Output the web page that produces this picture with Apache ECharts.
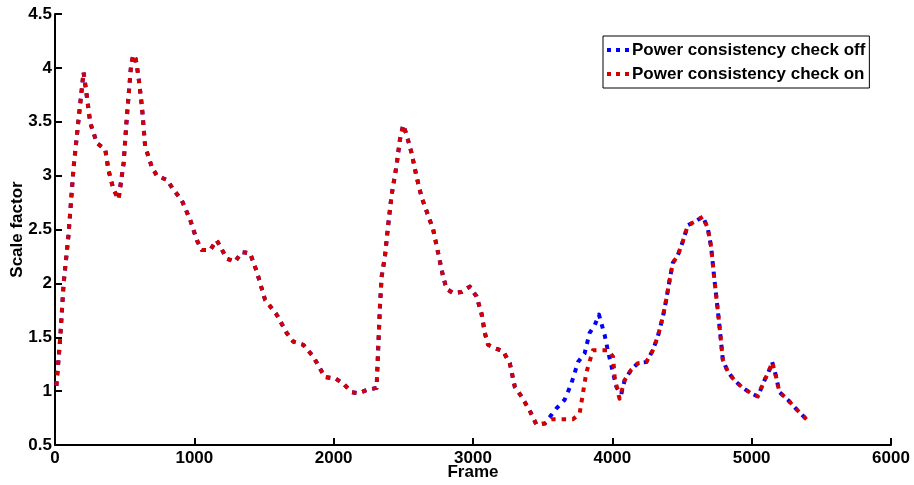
<!DOCTYPE html>
<html>
<head>
<meta charset="utf-8">
<script src="https://cdn.jsdelivr.net/npm/echarts@6/dist/echarts.min.js"></script>
<style>
  html, body { margin: 0; padding: 0; background: #ffffff; }
  #chart { width: 914px; height: 485px; }
</style>
</head>
<body>
<div id="chart"></div>
<script>
// Scale factor per frame, with and without the power consistency check.
const seriesNames = ['Power consistency check off', 'Power consistency check on'];

// Shared stretch before the two runs diverge (frame, scale factor)
const headFrames = [10, 38, 62, 97, 133, 169, 205, 224, 253, 301, 345, 361, 384, 420, 456, 492, 516, 547, 563, 580, 599, 624, 647, 695, 731, 803, 850, 910, 970, 1018, 1054, 1113, 1161, 1233, 1292, 1340, 1400, 1448, 1507, 1591, 1663, 1710, 1782, 1854, 1937, 2009, 2069, 2129, 2177, 2237, 2308, 2320, 2332, 2344, 2368, 2391, 2416, 2452, 2475, 2499, 2523, 2559, 2595, 2631, 2678, 2714, 2750, 2786, 2810, 2857, 2917, 2977, 3025, 3061, 3085, 3108, 3156, 3216, 3264, 3300, 3348, 3407, 3455, 3515];
const headValues = [1.05, 1.5, 2.0, 2.45, 3.07, 3.52, 3.96, 3.78, 3.49, 3.30, 3.26, 3.24, 3.05, 2.87, 2.78, 3.11, 3.55, 4.04, 4.12, 4.08, 3.92, 3.64, 3.27, 3.08, 3.00, 2.96, 2.87, 2.77, 2.59, 2.40, 2.31, 2.31, 2.40, 2.23, 2.20, 2.29, 2.28, 2.11, 1.85, 1.71, 1.54, 1.46, 1.43, 1.32, 1.13, 1.12, 1.07, 0.99, 0.98, 1.01, 1.03, 1.41, 1.78, 2.06, 2.25, 2.54, 2.82, 3.10, 3.33, 3.47, 3.38, 3.21, 2.99, 2.80, 2.63, 2.50, 2.28, 2.06, 1.95, 1.91, 1.92, 1.97, 1.88, 1.72, 1.54, 1.43, 1.40, 1.37, 1.26, 1.04, 0.95, 0.82, 0.69, 0.70];

// Diverging stretch, check off
const offFrames = [3599, 3658, 3706, 3754, 3801, 3837, 3873, 3904, 3945, 3969, 4005, 4029, 4064];
const offValues = [0.84, 0.92, 1.07, 1.27, 1.35, 1.54, 1.61, 1.71, 1.52, 1.37, 1.17, 1.04, 0.97];

// Diverging stretch, check on
const onFrames = [3563, 3646, 3718, 3765, 3789, 3813, 3861, 3886, 3969, 4005, 4017, 4041, 4052];
const onValues = [0.74, 0.74, 0.74, 0.79, 0.98, 1.17, 1.38, 1.38, 1.38, 1.32, 1.13, 0.98, 0.93];

// Shared stretch after the runs rejoin
const tailFrames = [4088, 4136, 4184, 4244, 4291, 4327, 4363, 4387, 4411, 4434, 4470, 4506, 4542, 4590, 4650, 4685, 4709, 4733, 4757, 4774, 4793, 4829, 4877, 4936, 4996, 5044, 5092, 5128, 5147, 5176, 5199, 5259, 5330, 5400];
const tailValues = [1.10, 1.20, 1.26, 1.27, 1.38, 1.51, 1.69, 1.85, 2.03, 2.19, 2.26, 2.39, 2.54, 2.57, 2.62, 2.51, 2.34, 2.03, 1.75, 1.54, 1.29, 1.18, 1.10, 1.03, 0.98, 0.95, 1.10, 1.20, 1.27, 1.13, 0.99, 0.92, 0.82, 0.73];

const xTicks = [0, 1000, 2000, 3000, 4000, 5000, 6000];
const yTicks = [0.5, 1, 1.5, 2, 2.5, 3, 3.5, 4, 4.5];

function pairs(frames, values) {
  return frames.map((f, i) => [f, values[i]]);
}
const offData = pairs(headFrames, headValues).concat(pairs(offFrames, offValues), pairs(tailFrames, tailValues));
const onData = pairs(headFrames, headValues).concat(pairs(onFrames, onValues), pairs(tailFrames, tailValues));

const FONT = '"Liberation Sans", Arial, Helvetica, sans-serif';
const dotIcon = 'path://M0,0h4v4h-4zM9,0h4v4h-4zM18,0h4v4h-4z';
const dash = [4.5, 6];

const chart = echarts.init(document.getElementById('chart'), null, { renderer: 'canvas' });
chart.setOption({
  animation: false,
  backgroundColor: '#ffffff',
  grid: { left: 55, right: 23, top: 14, bottom: 40, containLabel: false, outerBoundsMode: 'none' },
  legend: {
    orient: 'vertical',
    left: 603,
    top: 36,
    padding: [5, 4, 5, 4],
    itemGap: 6,
    itemWidth: 22,
    itemHeight: 4,
    backgroundColor: '#ffffff',
    borderColor: '#000000',
    borderWidth: 1,
    borderRadius: 0,
    textStyle: { fontFamily: FONT, fontWeight: 'bold', fontSize: 17, color: '#000000', lineHeight: 18, padding: [0, 0, 0, -2] },
    data: [
      { name: seriesNames[0], icon: dotIcon, itemStyle: { color: '#0000ff', borderWidth: 0 } },
      { name: seriesNames[1], icon: dotIcon, itemStyle: { color: '#d40000', borderWidth: 0 } }
    ]
  },
  xAxis: {
    type: 'value',
    min: xTicks[0],
    max: xTicks[xTicks.length - 1],
    interval: 1000,
    name: 'Frame',
    nameLocation: 'middle',
    nameGap: 19,
    nameMoveOverlap: false,
    nameTextStyle: { fontFamily: FONT, fontWeight: 'bold', fontSize: 17, color: '#000000' },
    axisLine: { lineStyle: { color: '#000000', width: 2 } },
    axisTick: { inside: true, length: 7, lineStyle: { color: '#000000', width: 2 } },
    axisLabel: { margin: 5, fontFamily: FONT, fontWeight: 'bold', fontSize: 17, color: '#000000', formatter: (v) => String(v) },
    splitLine: { show: false }
  },
  yAxis: {
    type: 'value',
    min: yTicks[0],
    max: yTicks[yTicks.length - 1],
    interval: 0.5,
    name: 'Scale factor',
    nameLocation: 'middle',
    nameGap: 29,
    nameMoveOverlap: false,
    nameTextStyle: { fontFamily: FONT, fontWeight: 'bold', fontSize: 17, color: '#000000' },
    axisLine: { show: true, lineStyle: { color: '#000000', width: 2 } },
    axisTick: { show: true, inside: true, length: 7, lineStyle: { color: '#000000', width: 2 } },
    axisLabel: { margin: 3, fontFamily: FONT, fontWeight: 'bold', fontSize: 17, color: '#000000', formatter: (v) => String(v) },
    splitLine: { show: false }
  },
  series: [
    {
      name: seriesNames[0],
      type: 'line',
      data: offData,
      showSymbol: false,
      symbol: 'none',
      color: '#0000ff',
      lineStyle: { color: '#0000ff', width: 4, type: dash, cap: 'butt', join: 'round' },
      z: 2
    },
    {
      name: seriesNames[1],
      type: 'line',
      data: onData,
      showSymbol: false,
      symbol: 'none',
      color: '#d40000',
      lineStyle: { color: '#d40000', width: 4, type: dash, cap: 'butt', join: 'round' },
      z: 3
    }
  ]
});
</script>
</body>
</html>
